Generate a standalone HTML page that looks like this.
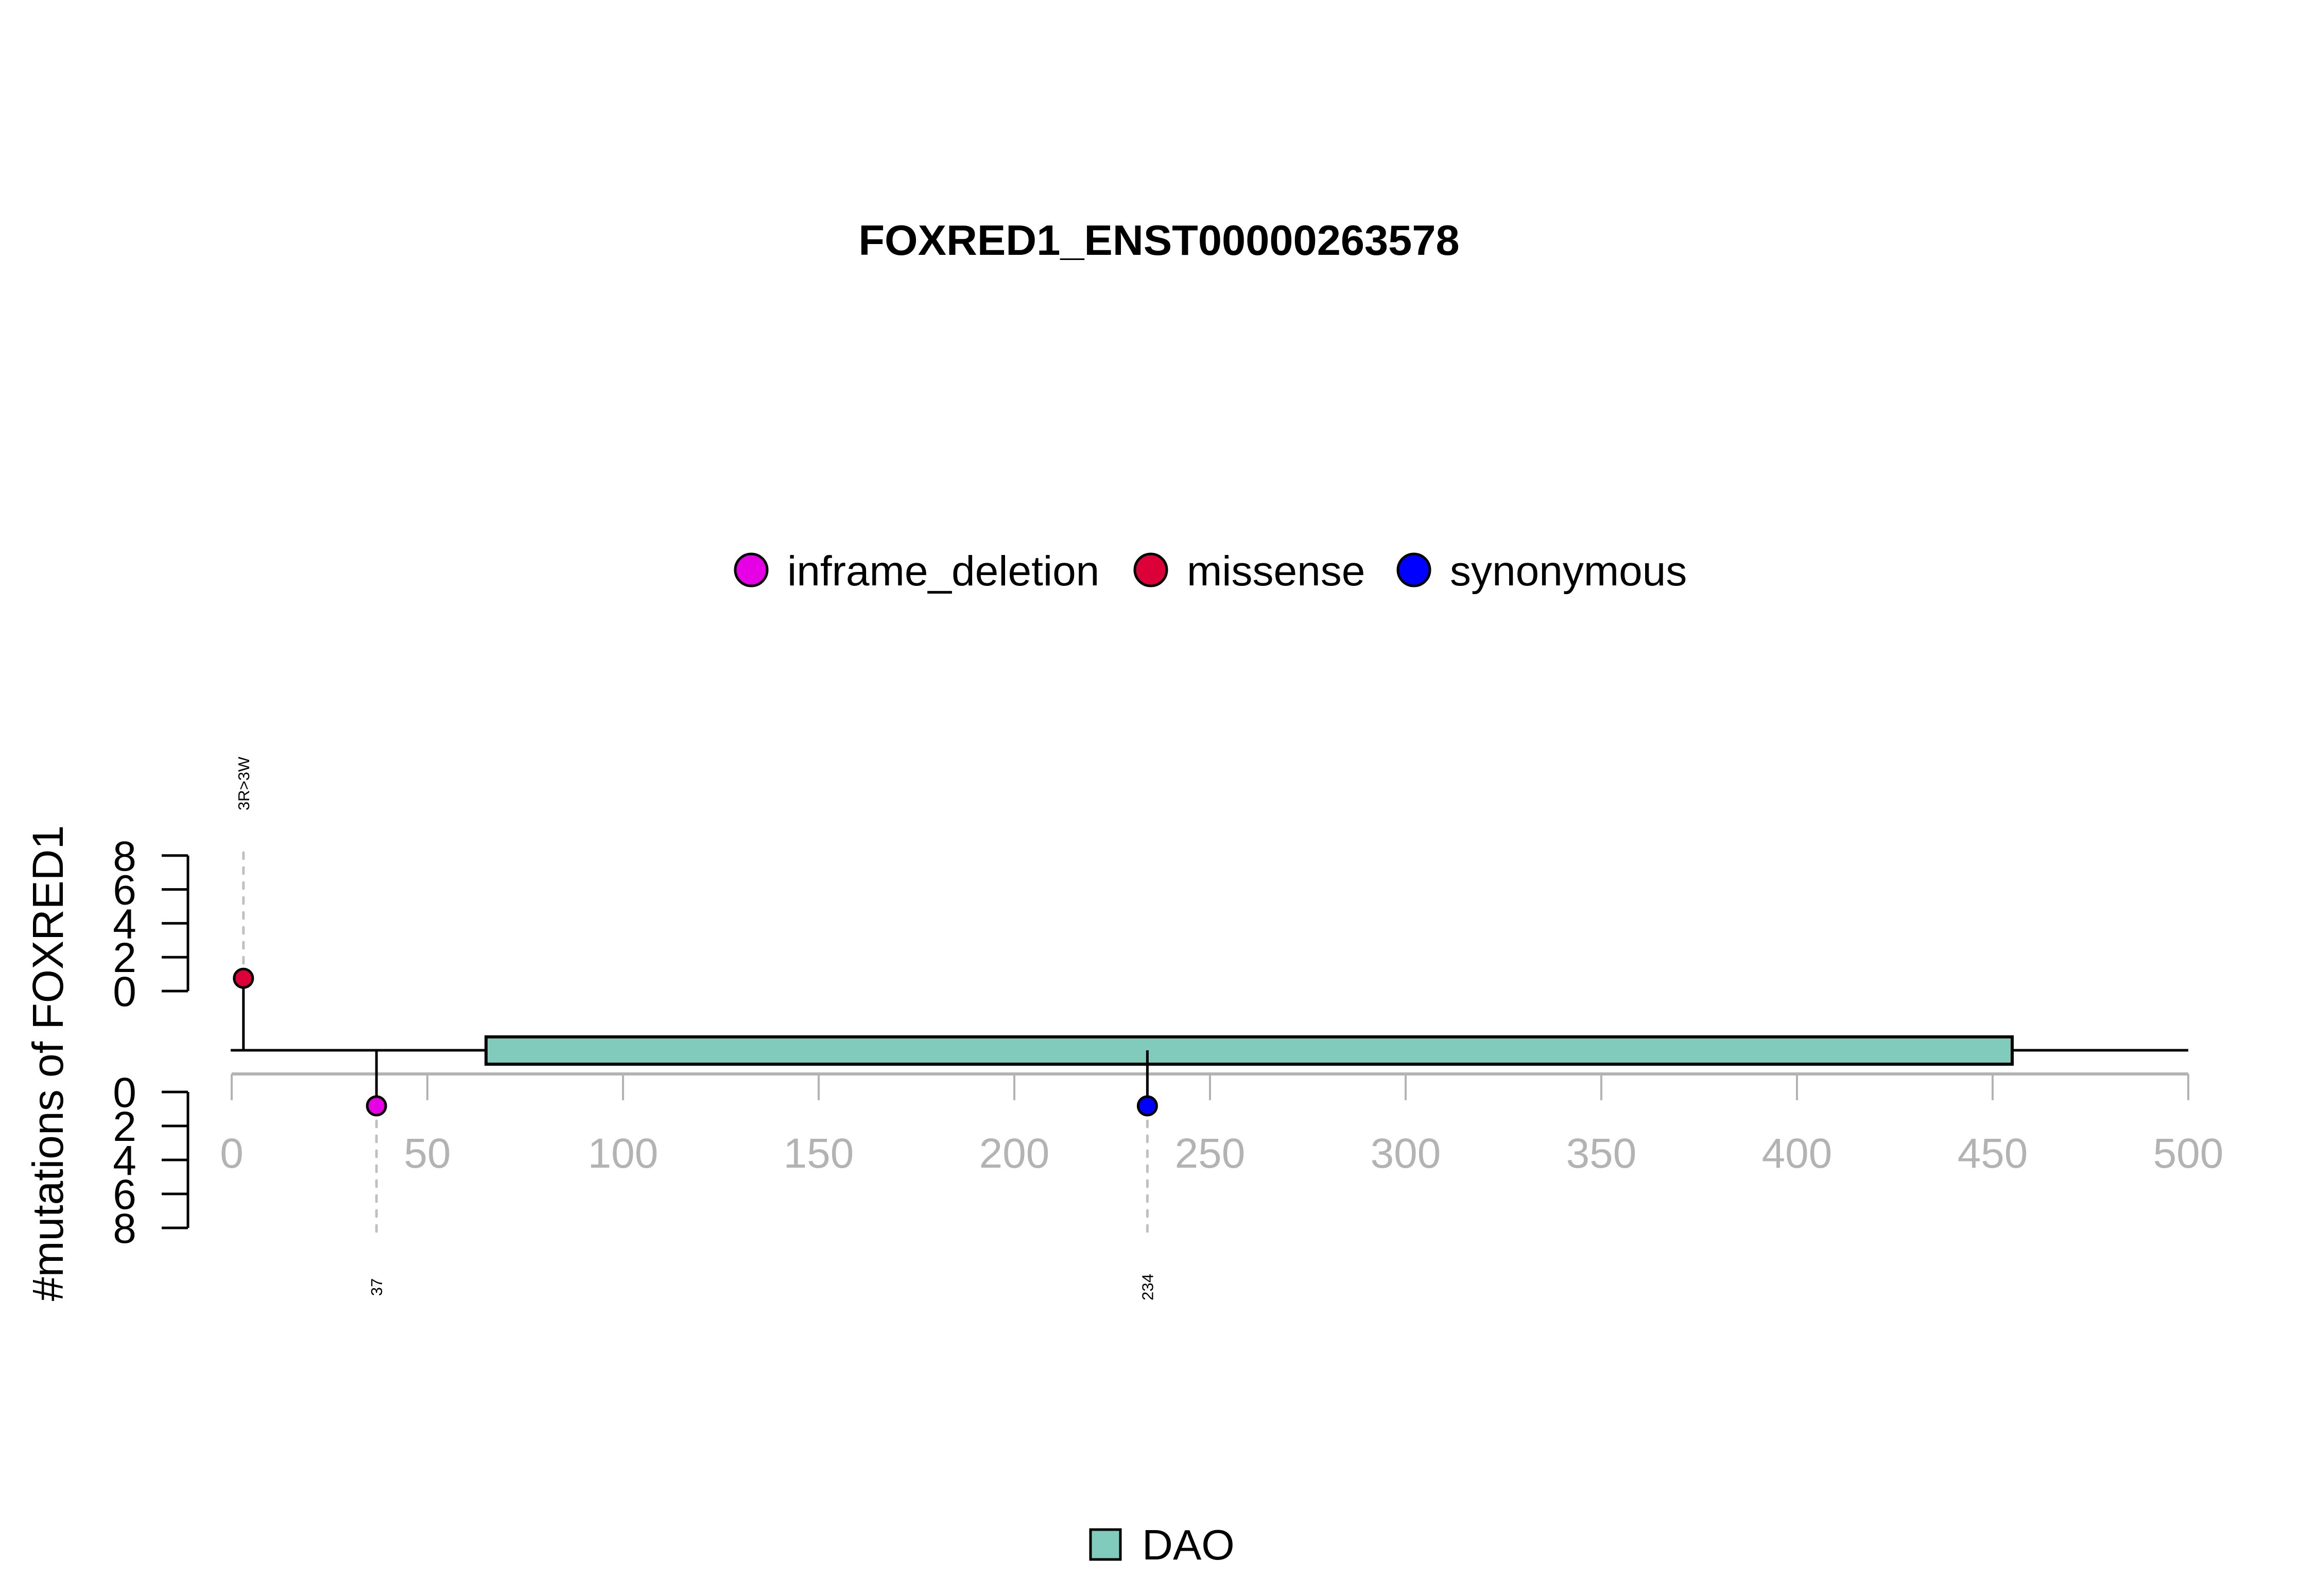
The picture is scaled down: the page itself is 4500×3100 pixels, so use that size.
<!DOCTYPE html>
<html><head><meta charset="utf-8"><style>html,body{margin:0;padding:0;background:#fff}svg{display:block}text{font-family:"Liberation Sans",Arial,sans-serif}</style></head>
<body>
<svg id="chart" width="4500" height="3100" viewBox="0 0 4500 3100" xmlns="http://www.w3.org/2000/svg">
<rect width="4500" height="3100" fill="#fff"/>
<text x="2251" y="495" text-anchor="middle" font-weight="bold" font-size="83">FOXRED1_ENST00000263578</text>
<g id="legend"></g>
<g id="axes"></g>
<g id="marks"></g>
<text transform="translate(122,2065) rotate(-90)" text-anchor="middle" font-size="84">#mutations of FOXRED1</text>
<rect x="2118" y="2971" width="58" height="58" fill="#80CBBC" stroke="#000" stroke-width="5"/>
<text x="2218" y="3029" font-size="83">DAO</text>
</svg>
<script>
const positions = [3, 37, 234];
const counts = [1, 1, 1];
const mutTypes = ["missense", "inframe_deletion", "synonymous"];
const mutLabels = ["3R>3W", "37", "234"];
const sides = ["up", "down", "down"];
const legendNames = ["inframe_deletion", "missense", "synonymous"];
const domainNames = ["DAO"];
const domainStarts = [65];
const domainEnds = [455];
const xTicks = [0, 50, 100, 150, 200, 250, 300, 350, 400, 450, 500];
const yTicks = [0, 2, 4, 6, 8];
const proteinLength = 500;

const colors = {inframe_deletion: "#E600E6", missense: "#DC0038", synonymous: "#0000FF"};
const NS = "http://www.w3.org/2000/svg";
function mk(tag, attrs, parent) {
  const e = document.createElementNS(NS, tag);
  for (const k in attrs) e.setAttribute(k, attrs[k]);
  parent.appendChild(e);
  return e;
}
const X = p => 450 + p * 7.6;
const yUp = v => 1925 - v * 32.9;
const yDown = v => 2121 + v * 33;
const backboneY = 2040;

const axes = document.getElementById('axes');
const marks = document.getElementById('marks');
const legend = document.getElementById('legend');

const legX = [1459, 2235, 2746];
legendNames.forEach((n, i) => {
  const c = mk('circle', {cx: legX[i], cy: 1107, r: 31, fill: colors[n], stroke: '#000', 'stroke-width': 5}, legend);
  
  
  const t = mk('text', {x: legX[i] + 70, y: 1137, 'font-size': 82}, legend);
  t.textContent = n;
  
  
});

const xl = mk('line', {x1: X(0), x2: X(proteinLength), y1: 2086, y2: 2086, stroke: '#B3B3B3', 'stroke-width': 6}, axes);


xTicks.forEach(v => {
  const l = mk('line', {x1: X(v), x2: X(v), y1: 2086, y2: 2137, stroke: '#B3B3B3', 'stroke-width': 4}, axes);
  
  
  const t = mk('text', {x: X(v), y: 2268, 'text-anchor': 'middle', 'font-size': 82, fill: '#B3B3B3'}, axes);
  t.textContent = v;
  
  
});

[[yUp, 'upper'], [yDown, 'lower']].forEach(([fy, nm]) => {
  const l = mk('line', {x1: 365, x2: 365, y1: fy(0), y2: fy(8), stroke: '#000', 'stroke-width': 5}, axes);
  
  
  yTicks.forEach(v => {
    const tk = mk('line', {x1: 314, x2: 365, y1: fy(v), y2: fy(v), stroke: '#000', 'stroke-width': 5}, axes);
    
    
    const t = mk('text', {x: 242, y: fy(v) + 29, 'text-anchor': 'middle', 'font-size': 82}, axes);
    t.textContent = v;
    
    
  });
});

const bb = mk('line', {x1: 448, x2: X(proteinLength), y1: backboneY, y2: backboneY, stroke: '#000', 'stroke-width': 5}, marks);


domainNames.forEach((n, i) => {
  const r = mk('rect', {x: X(domainStarts[i]), y: 2014, width: X(domainEnds[i]) - X(domainStarts[i]), height: 53, fill: '#80CBBC', stroke: '#000', 'stroke-width': 6}, marks);
  
  
});

positions.forEach((p, i) => {
  const x = X(p);
  const up = sides[i] === 'up';
  const cy = up ? yUp(counts[i]) + 8 : yDown(counts[i]) - 6;
  const dEnd = up ? yUp(8) - 10 : yDown(8) + 13;
  const d = mk('line', {x1: x, x2: x, y1: cy, y2: dEnd, stroke: '#C0C0C0', 'stroke-width': 5, 'stroke-dasharray': '12 17', 'stroke-linecap': 'round'}, marks);
  
  
  const s = mk('line', {x1: x, x2: x, y1: backboneY, y2: cy, stroke: '#000', 'stroke-width': 5}, marks);
  
  
  const c = mk('circle', {cx: x, cy: cy, r: 18, fill: colors[mutTypes[i]], stroke: '#000', 'stroke-width': 5}, marks);
  
  
  const ly = up ? 1522 : 2500;
  const t = mk('text', {transform: `translate(${x + 11},${ly}) rotate(-90)`, 'text-anchor': 'middle', 'font-size': 31}, marks);
  t.textContent = mutLabels[i];
  
  
});
</script>
</body></html>
